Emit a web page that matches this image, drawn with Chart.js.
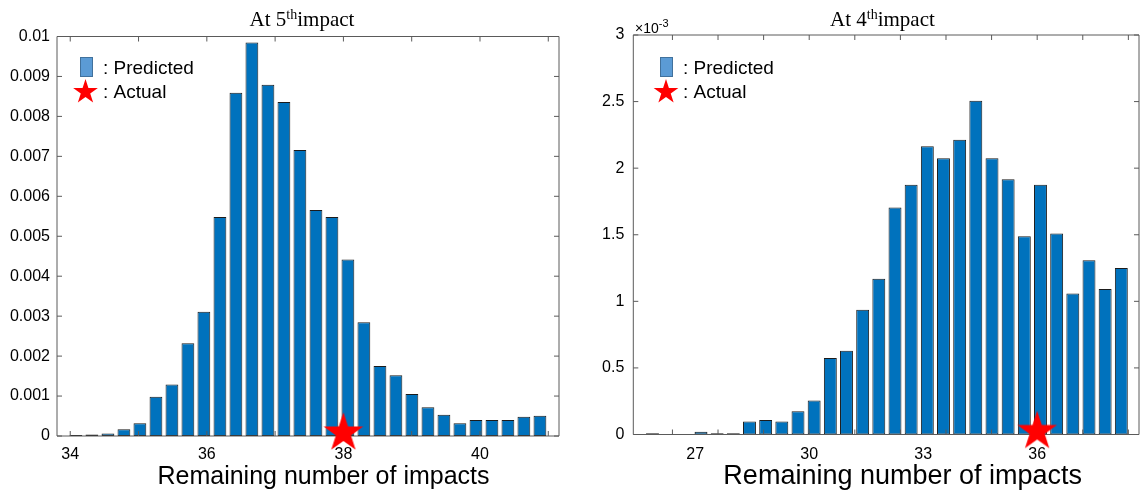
<!DOCTYPE html>
<html>
<head>
<meta charset="utf-8">
<script src="https://cdn.jsdelivr.net/npm/chart.js@4.4.1/dist/chart.umd.min.js"></script>
<style>
  html, body { margin: 0; padding: 0; background: #fff; overflow: hidden; width: 1142px; height: 494px; }
  canvas { position: absolute; top: 0; }
  #at5 { left: 0; }
  #at4 { left: 580px; }
</style>
</head>
<body>
<canvas id="at5" width="580" height="494"></canvas>
<canvas id="at4" width="580" height="494"></canvas>
<script>
// ---- Panel 1: distribution of remaining impacts, predicted at the 5th impact ----
const binsAt5 = [34.083, 34.317, 34.552, 34.786, 35.020, 35.255, 35.489, 35.723, 35.957, 36.192,
                 36.426, 36.660, 36.895, 37.129, 37.363, 37.598, 37.832, 38.066, 38.300, 38.535,
                 38.769, 39.003, 39.238, 39.472, 39.706, 39.941, 40.175, 40.409, 40.643, 40.878];
const densityAt5 = [0.000025, 0.00004, 0.00006, 0.00017, 0.00032, 0.00098, 0.00129, 0.00232, 0.00311, 0.00548,
                    0.00859, 0.00985, 0.00879, 0.00836, 0.00716, 0.00566, 0.00548, 0.00442, 0.00285, 0.00175,
                    0.00152, 0.00105, 0.00072, 0.00053, 0.00032, 0.0004, 0.0004, 0.0004, 0.00048, 0.00051];
const actualAt5 = 38;
const xLabelsAt5 = [34, 36, 38, 40];
const xTickMarksAt5 = [34, 35, 36, 37, 38, 39, 40, 41];
const yTicksAt5 = [0, 0.001, 0.002, 0.003, 0.004, 0.005, 0.006, 0.007, 0.008, 0.009, 0.01];

// ---- Panel 2: distribution of remaining impacts, predicted at the 4th impact ----
const binsAt4 = [25.875, 26.301, 26.726, 27.152, 27.577, 28.003, 28.428, 28.854, 29.279, 29.705,
                 30.130, 30.556, 30.981, 31.407, 31.832, 32.258, 32.683, 33.109, 33.534, 33.960,
                 34.385, 34.811, 35.236, 35.662, 36.087, 36.513, 36.938, 37.364, 37.789, 38.215];
const densityAt4 = [0.00001, 0, 0, 0.00002, 0.00001, 0.00001, 0.000098, 0.000108, 0.000098, 0.000175,
                    0.000256, 0.000574, 0.000629, 0.000937, 0.00117, 0.001704, 0.001875, 0.002165, 0.002075, 0.002213,
                    0.002506, 0.002075, 0.001917, 0.001489, 0.001875, 0.001509, 0.001058, 0.001308, 0.001093, 0.001251];
const actualAt4 = 36;
const xLabelsAt4 = [27, 30, 33, 36];
const xTickMarksAt4 = [26.4, 27.6, 28.8, 30, 31.2, 32.4, 33.6, 34.8, 36, 37.2, 38.4];
const yTicksAt4 = [0, 0.0005, 0.001, 0.0015, 0.002, 0.0025, 0.003];

const legendLabels = [': Predicted', ': Actual'];
const xTitle = 'Remaining number of impacts';

const SANS = '"Liberation Sans", Arial, sans-serif';
const SERIF = '"Liberation Serif", "Times New Roman", serif';
const BAR_FILL = '#0072BD';
const STAR_RED = '#ff0000';

// Filled five-pointed star, used as a point style image
function starImage(R, lift) {
  const size = Math.ceil(2 * R + 2 * lift + 4);
  const c = document.createElement('canvas');
  c.width = size; c.height = size;
  const g = c.getContext('2d');
  drawStar(g, size / 2, size / 2 - lift, R);
  return c;
}
function drawStar(g, cx, cy, R) {
  const r = R * 0.382;
  g.beginPath();
  for (let i = 0; i < 10; i++) {
    const rad = i % 2 ? r : R;
    const a = -Math.PI / 2 + i * Math.PI / 5;
    const px = cx + rad * Math.cos(a), py = cy + rad * Math.sin(a);
    if (i) g.lineTo(px, py); else g.moveTo(px, py);
  }
  g.closePath();
  g.fillStyle = STAR_RED;
  g.fill();
}

// Box around the axes with inward tick marks on all four sides
function framePlugin(xMarks) {
  return {
    id: 'frame',
    beforeDatasetDraw(chart, args) {
      if (chart.data.datasets[args.index].type !== 'scatter') return;
      const { ctx, chartArea: a, scales: { x, y } } = chart;
      const L = 5;
      ctx.save();
      ctx.strokeStyle = '#5a5a5a';
      ctx.lineWidth = 1;
      ctx.beginPath();
      ctx.rect(a.left, a.top, a.right - a.left, a.bottom - a.top);
      xMarks.forEach(v => {
        const px = x.getPixelForValue(v);
        ctx.moveTo(px, a.bottom); ctx.lineTo(px, a.bottom - L);
        ctx.moveTo(px, a.top); ctx.lineTo(px, a.top + L);
      });
      y.ticks.forEach(t => {
        const py = y.getPixelForValue(t.value);
        ctx.moveTo(a.left, py); ctx.lineTo(a.left + L, py);
        ctx.moveTo(a.right, py); ctx.lineTo(a.right - L, py);
      });
      ctx.stroke();
      ctx.restore();
    }
  };
}

// Title with superscript ordinal, legend, x-axis title and exponent note
function textPlugin(cfg) {
  return {
    id: 'texts',
    afterDraw(chart) {
      const ctx = chart.ctx;
      ctx.save();
      ctx.fillStyle = '#000';
      ctx.textAlign = 'left';
      ctx.textBaseline = 'alphabetic';

      // title: "At N" + superscript "th" + "impact"
      const big = '21px ' + SERIF, sup = '14px ' + SERIF;
      ctx.font = big;
      const w1 = ctx.measureText(cfg.titleHead).width;
      const w3 = ctx.measureText('impact').width;
      ctx.font = sup;
      const w2 = ctx.measureText('th').width;
      let tx = cfg.titleCenter - (w1 + w2 + w3) / 2;
      ctx.font = big; ctx.fillText(cfg.titleHead, tx, 26); tx += w1;
      ctx.font = sup; ctx.fillText('th', tx, 19); tx += w2;
      ctx.font = big; ctx.fillText('impact', tx, 26);

      // legend
      ctx.fillStyle = '#5B9BD5';
      ctx.fillRect(80, 57, 13, 20);
      ctx.strokeStyle = '#41719C';
      ctx.lineWidth = 1;
      ctx.strokeRect(80.5, 57.5, 12, 19);
      drawStar(ctx, cfg.legendStarX, 92, 13);
      ctx.fillStyle = '#000';
      ctx.font = '19px ' + SANS;
      ctx.textBaseline = 'middle';
      ctx.fillText(legendLabels[0], 103, 68.5);
      ctx.fillText(legendLabels[1], 103, 92.5);

      // x-axis title
      ctx.textAlign = 'center';
      ctx.textBaseline = 'alphabetic';
      ctx.font = cfg.xTitleSize + 'px ' + SANS;
      ctx.fillText(xTitle, cfg.xTitleCenter, 484);

      // exponent note of the y axis
      if (cfg.exponent) {
        ctx.textAlign = 'left';
        ctx.font = '14px ' + SANS;
        ctx.fillText('\u00d710', 55, 32.5);
        const w = ctx.measureText('\u00d710').width;
        ctx.font = '11px ' + SANS;
        ctx.fillText(cfg.exponent, 55 + w, 26.5);
      }
      ctx.restore();
    }
  };
}

function makeChart(id, p) {
  const star = starImage(20.8, 3);
  return new Chart(document.getElementById(id), {
    type: 'bar',
    data: {
      datasets: [
        {
          type: 'scatter',
          data: [{ x: p.actual, y: 0 }],
          pointStyle: star,
          pointRadius: 20,
          clip: false,
          order: 0
        },
        {
          type: 'bar',
          data: p.bins.map((b, i) => ({ x: b, y: p.density[i] })),
          backgroundColor: BAR_FILL,
          borderColor: '#1b1b1b',
          borderWidth: 1,
          borderSkipped: false,
          barPercentage: 0.8,
          categoryPercentage: 1.0,
          order: 1
        }
      ]
    },
    options: {
      responsive: false,
      animation: false,
      events: [],
      layout: { padding: p.padding },
      plugins: { legend: { display: false }, tooltip: { enabled: false }, title: { display: false } },
      scales: {
        x: {
          type: 'linear',
          min: p.xMin, max: p.xMax,
          offset: false,
          grid: { display: false, drawTicks: false },
          border: { display: false },
          afterBuildTicks: s => { s.ticks = p.xLabels.map(v => ({ value: v })); },
          afterFit: s => { s.height = p.xAxisHeight; },
          ticks: { autoSkip: false, maxRotation: 0, padding: p.xPad, color: '#000', font: { family: SANS, size: 16 } }
        },
        y: {
          type: 'linear',
          min: 0, max: p.yMax,
          grid: { display: false, drawTicks: false },
          border: { display: false },
          afterBuildTicks: s => { s.ticks = p.yTicks.map(v => ({ value: v })); },
          afterFit: s => { s.width = p.yAxisWidth; },
          ticks: { autoSkip: false, padding: p.yPad, color: '#000', font: { family: SANS, size: 16 }, callback: p.yFormat }
        }
      }
    },
    plugins: [framePlugin(p.xMarks), textPlugin(p.text)]
  });
}

makeChart('at5', {
  bins: binsAt5, density: densityAt5, actual: actualAt5,
  xMin: 33.806, xMax: 41.157, xLabels: xLabelsAt5, xMarks: xTickMarksAt5,
  yMax: 0.01, yTicks: yTicksAt5,
  yFormat: v => String(Number(v.toFixed(3))),
  padding: { left: 0, right: 10.5, top: 36.5, bottom: 0 },
  yAxisWidth: 57, xAxisHeight: 58, xPad: 9, yPad: 7,
  text: { titleHead: 'At 5', titleCenter: 302, legendStarX: 85.5, xTitleSize: 25, xTitleCenter: 323.5, exponent: null }
});

makeChart('at4', {
  bins: binsAt4, density: densityAt4, actual: actualAt4,
  xMin: 25.37, xMax: 38.68, xLabels: xLabelsAt4, xMarks: xTickMarksAt4,
  yMax: 0.003, yTicks: yTicksAt4,
  yFormat: v => String(Number((v * 1000).toFixed(1))),
  padding: { left: 0, right: 16, top: 35, bottom: 0 },
  yAxisWidth: 53.3, xAxisHeight: 59.5, xPad: 10.5, yPad: 9,
  text: { titleHead: 'At 4', titleCenter: 302.4, legendStarX: 86, xTitleSize: 27, xTitleCenter: 322.7, exponent: '-3' }
});
</script>
</body>
</html>
